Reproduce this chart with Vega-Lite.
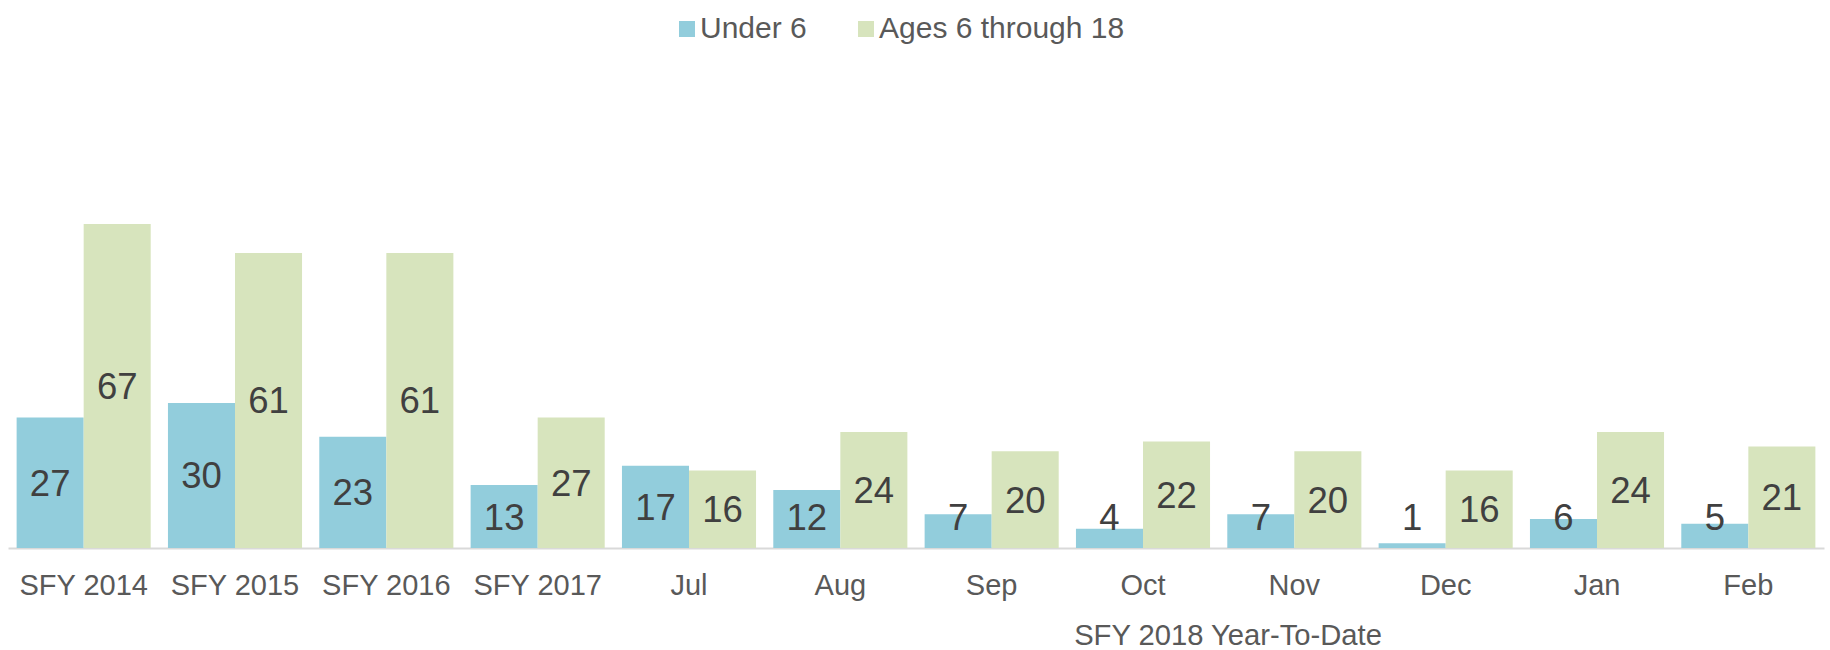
{
  "$schema": "https://vega.github.io/schema/vega-lite/v6.json",
  "width": 1816,
  "height": 387,
  "autosize": {"type": "none"},
  "padding": {"left": 8, "top": 161, "right": 6, "bottom": 102},
  "background": "white",
  "config": {
    "view": {"stroke": null},
    "font": "Liberation Sans"
  },
  "data": {
    "values": [
      {"period": "SFY 2014", "group": "Under 6", "value": 27},
      {"period": "SFY 2014", "group": "Ages 6 through 18", "value": 67},
      {"period": "SFY 2015", "group": "Under 6", "value": 30},
      {"period": "SFY 2015", "group": "Ages 6 through 18", "value": 61},
      {"period": "SFY 2016", "group": "Under 6", "value": 23},
      {"period": "SFY 2016", "group": "Ages 6 through 18", "value": 61},
      {"period": "SFY 2017", "group": "Under 6", "value": 13},
      {"period": "SFY 2017", "group": "Ages 6 through 18", "value": 27},
      {"period": "Jul", "group": "Under 6", "value": 17},
      {"period": "Jul", "group": "Ages 6 through 18", "value": 16},
      {"period": "Aug", "group": "Under 6", "value": 12},
      {"period": "Aug", "group": "Ages 6 through 18", "value": 24},
      {"period": "Sep", "group": "Under 6", "value": 7},
      {"period": "Sep", "group": "Ages 6 through 18", "value": 20},
      {"period": "Oct", "group": "Under 6", "value": 4},
      {"period": "Oct", "group": "Ages 6 through 18", "value": 22},
      {"period": "Nov", "group": "Under 6", "value": 7},
      {"period": "Nov", "group": "Ages 6 through 18", "value": 20},
      {"period": "Dec", "group": "Under 6", "value": 1},
      {"period": "Dec", "group": "Ages 6 through 18", "value": 16},
      {"period": "Jan", "group": "Under 6", "value": 6},
      {"period": "Jan", "group": "Ages 6 through 18", "value": 24},
      {"period": "Feb", "group": "Under 6", "value": 5},
      {"period": "Feb", "group": "Ages 6 through 18", "value": 21}
    ]
  },
  "encoding": {
    "x": {
      "field": "period",
      "type": "nominal",
      "sort": null,
      "scale": {"paddingInner": 0.114, "paddingOuter": 0.057},
      "axis": {
        "title": "SFY 2018 Year-To-Date",
        "titleX": 1219.5,
        "titleY": 96,
        "titleBaseline": "alphabetic",
        "titleAnchor": "start",
        "titleAlign": "center",
        "titleFont": "Liberation Sans",
        "titleFontSize": 29.2,
        "titleFontWeight": "normal",
        "titleColor": "#595959",
        "labelAngle": 0,
        "labelFont": "Liberation Sans",
        "labelFontSize": 29,
        "labelColor": "#595959",
        "labelPadding": 23,
        "ticks": false,
        "tickSize": 0,
        "domainColor": "#D9D9D9",
        "domainWidth": 2,
        "grid": false
      }
    },
    "xOffset": {
      "field": "group",
      "type": "nominal",
      "sort": ["Under 6", "Ages 6 through 18"],
      "scale": {"paddingInner": 0, "paddingOuter": 0}
    }
  },
  "layer": [
    {
      "mark": {"type": "bar"},
      "encoding": {
        "y": {
          "field": "value",
          "type": "quantitative",
          "scale": {"domain": [0, 80], "nice": false},
          "axis": null
        },
        "color": {
          "field": "group",
          "type": "nominal",
          "sort": ["Under 6", "Ages 6 through 18"],
          "scale": {"domain": ["Under 6", "Ages 6 through 18"], "range": ["#92CDDC", "#D7E4BD"]},
          "legend": {
            "title": null,
            "orient": "none",
            "direction": "horizontal",
            "legendX": 664,
            "legendY": -147,
            "symbolType": "square",
            "symbolSize": 256,
            "symbolStrokeWidth": 0,
            "labelFont": "Liberation Sans",
            "labelFontSize": 30,
            "labelColor": "#595959",
            "labelOffset": -2,
            "labelLimit": 400,
            "columnPadding": 44
          }
        }
      }
    },
    {
      "transform": [{"calculate": "max(datum.value / 2, 6.5)", "as": "labelPos"}],
      "mark": {
        "type": "text",
        "font": "Liberation Sans",
        "fontSize": 36.5,
        "color": "#404040",
        "baseline": "middle",
        "align": "center",
        "dy": 2
      },
      "encoding": {
        "y": {
          "field": "labelPos",
          "type": "quantitative",
          "scale": {"domain": [0, 80], "nice": false},
          "axis": null
        },
        "text": {"field": "value", "type": "quantitative"}
      }
    }
  ]
}
